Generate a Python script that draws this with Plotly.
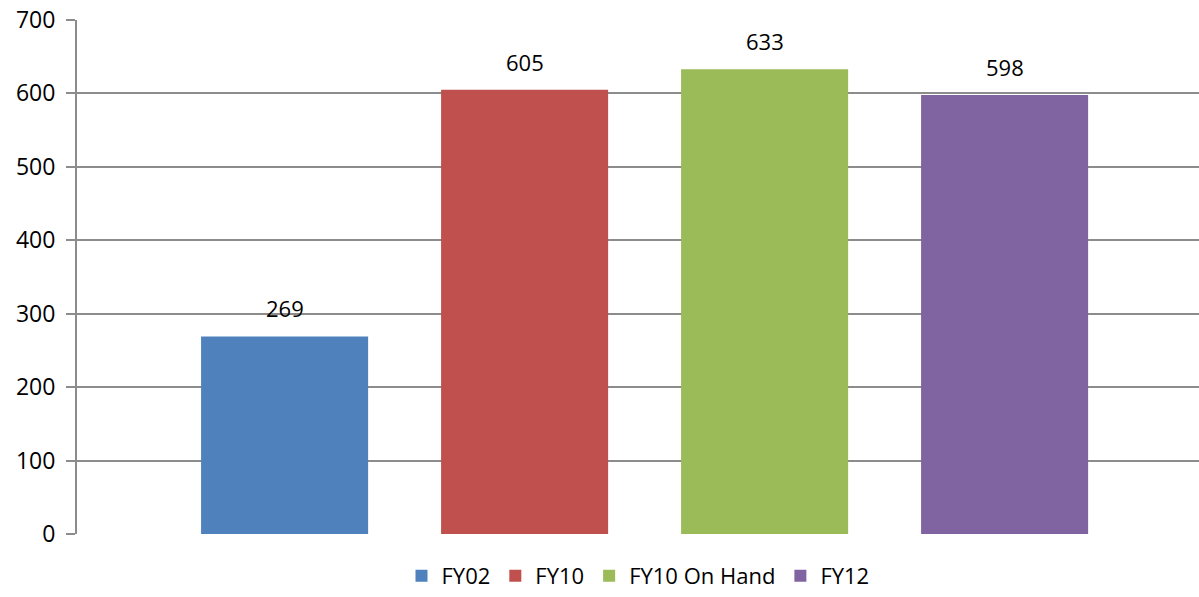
import plotly.graph_objects as go

categories = ["FY02", "FY10", "FY10 On Hand", "FY12"]
values = [269, 605, 633, 598]
colors = ["#4F81BD", "#C0504D", "#9BBB59", "#8064A2"]
y_ticks = [0, 100, 200, 300, 400, 500, 600, 700]

FONT = "Open Sans"
GRID = "#8C8C8C"

fig = go.Figure()
for cat, val, col in zip(categories, values, colors):
    fig.add_trace(go.Bar(
        x=[cat], y=[val], name=cat, marker_color=col,
        marker_line_width=0, width=0.696,
    ))
    fig.add_annotation(
        x=cat, y=val, text=str(val), showarrow=False,
        yshift=28, font=dict(family=FONT, size=22, color="#000000"),
    )

fig.update_layout(
    width=1199, height=597,
    margin=dict(l=77, r=0, t=20, b=63, autoexpand=False),
    paper_bgcolor="white", plot_bgcolor="white",
    barmode="overlay",
    showlegend=True,
    legend=dict(
        orientation="h", x=0.5, xanchor="center",
        yref="container", y=0.0, yanchor="bottom",
        font=dict(family=FONT, size=22, color="#000000"),
        itemwidth=30, traceorder="normal",
    ),
    xaxis=dict(
        type="category", categoryorder="array", categoryarray=categories,
        range=[-0.865, 3.81], showticklabels=False, showgrid=False,
        zeroline=False, showline=False, ticks="",
    ),
    yaxis=dict(
        range=[0, 700], tickvals=y_ticks, showgrid=True, gridcolor=GRID,
        gridwidth=2, zeroline=False, showline=True, linecolor=GRID,
        linewidth=2, ticks="outside", ticklen=9, tickcolor=GRID, tickwidth=2,
        tickfont=dict(family=FONT, size=23, color="#000000"),
        ticklabelstandoff=6,
    ),
)

fig.write_html("out.html")
